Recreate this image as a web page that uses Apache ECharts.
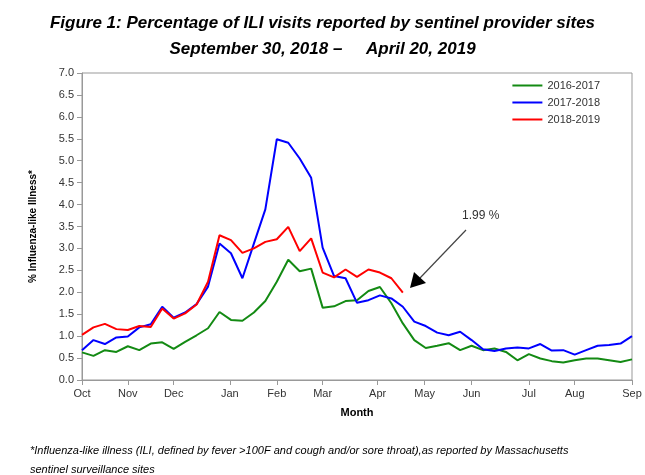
<!DOCTYPE html>
<html>
<head>
<meta charset="utf-8">
<script src="https://cdn.jsdelivr.net/npm/echarts@6/dist/echarts.min.js"></script>
<style>
  body { margin: 0; background: #fff; }
  #chart { width: 645px; height: 475px; }
</style>
</head>
<body>
<div id="chart"></div>
<script>
// weekly ILI %, week 0 = first week of October
const s2016 = [0.63, 0.55, 0.68, 0.64, 0.77, 0.68, 0.83, 0.86, 0.71, 0.87, 1.02, 1.18, 1.55, 1.37, 1.35, 1.54, 1.80, 2.24, 2.74, 2.48, 2.54, 1.65, 1.68, 1.80, 1.82, 2.03, 2.12, 1.75, 1.29, 0.91, 0.73, 0.78, 0.84, 0.68, 0.78, 0.68, 0.72, 0.64, 0.45, 0.59, 0.49, 0.43, 0.40, 0.45, 0.49, 0.49, 0.45, 0.41, 0.47]
const s2017 = [0.68, 0.91, 0.82, 0.97, 0.99, 1.20, 1.27, 1.67, 1.42, 1.54, 1.73, 2.13, 3.11, 2.89, 2.32, 3.11, 3.89, 5.49, 5.41, 5.05, 4.61, 3.02, 2.37, 2.32, 1.76, 1.82, 1.93, 1.86, 1.67, 1.33, 1.23, 1.08, 1.02, 1.10, 0.91, 0.70, 0.66, 0.72, 0.74, 0.72, 0.82, 0.67, 0.68, 0.58, 0.68, 0.78, 0.80, 0.83, 1.00]
const s2018 = [1.03, 1.20, 1.28, 1.16, 1.14, 1.23, 1.21, 1.63, 1.40, 1.52, 1.72, 2.24, 3.30, 3.19, 2.90, 3.00, 3.15, 3.21, 3.49, 2.94, 3.23, 2.45, 2.34, 2.52, 2.35, 2.52, 2.45, 2.32, 1.99]
const months = ['Oct', 'Nov', 'Dec', 'Jan', 'Feb', 'Mar', 'Apr', 'May', 'Jun', 'Jul', 'Aug', 'Sep']
const monthWeeks = [0, 4, 8, 12.9, 17, 21, 25.8, 29.9, 34, 39, 43, 48]

const toPts = arr => arr.map((v, i) => [i, v])
const chart = echarts.init(document.getElementById('chart'))

const lineSeries = (name, data, color) => ({
  name, type: 'line', data: toPts(data), symbol: 'none',
  lineStyle: {color, width: 2}, itemStyle: {color},
})

chart.setOption({
  animation: false,
  title: [
    {text: 'Figure 1: Percentage of ILI visits reported by sentinel provider sites', left: 'center', top: 10,
      textStyle: {fontFamily: 'Liberation Sans', fontSize: 17, fontWeight: 'bold', fontStyle: 'italic', color: '#000'}},
    {text: 'September 30, 2018 \u2013     April 20, 2019', left: 'center', top: 36,
      textStyle: {fontFamily: 'Liberation Sans', fontSize: 17, fontWeight: 'bold', fontStyle: 'italic', color: '#000'}},
  ],
  legend: {
    right: 40, top: 75, orient: 'vertical', itemWidth: 30, itemHeight: 2, itemGap: 6,
    icon: 'rect',
    textStyle: {fontFamily: 'Liberation Sans', fontSize: 11, color: '#333'},
  },
  grid: {left: 82, right: 13, top: 73, bottom: 95, show: true, borderColor: '#999', borderWidth: 1},
  xAxis: {
    type: 'value', min: 0, max: 48,
    name: 'Month', nameLocation: 'middle', nameGap: 27,
    nameTextStyle: {fontFamily: 'Liberation Sans', fontSize: 11, fontWeight: 'bold', color: '#000'},
    axisLine: {lineStyle: {color: '#999'}},
    axisTick: {customValues: monthWeeks, length: 5, lineStyle: {color: '#999'}},
    axisLabel: {
      customValues: monthWeeks, color: '#333', fontFamily: 'Liberation Sans', fontSize: 11, margin: 8,
      formatter: v => months[monthWeeks.indexOf(v)],
    },
    splitLine: {show: false},
  },
  yAxis: {
    type: 'value', min: 0, max: 7, interval: 0.5,
    name: '% Influenza-like Illness*', nameLocation: 'middle', nameGap: 44,
    nameTextStyle: {fontFamily: 'Liberation Sans', fontSize: 10, fontWeight: 'bold', color: '#000'},
    axisLine: {show: true, lineStyle: {color: '#999'}},
    axisTick: {show: true, length: 5, lineStyle: {color: '#999'}},
    axisLabel: {color: '#333', fontFamily: 'Liberation Sans', fontSize: 11, formatter: v => v.toFixed(1)},
    splitLine: {show: false},
  },
  series: [
    lineSeries('2016-2017', s2016, '#138a13'),
    lineSeries('2017-2018', s2017, '#0000ff'),
    lineSeries('2018-2019', s2018, '#ff0000'),
  ],
  graphic: [
    {type: 'text', left: 462, top: 210, style: {text: '1.99 %', fontFamily: 'Liberation Sans', fontSize: 12, fill: '#333'}},
    {type: 'line', shape: {x1: 466, y1: 230, x2: 420, y2: 278}, style: {stroke: '#444', lineWidth: 1.2}},
    {type: 'polygon', shape: {points: [[410, 288], [414, 272], [426, 283]]}, style: {fill: '#000'}},
    {type: 'text', left: 30, top: 441, style: {
      text: '*Influenza-like illness (ILI, defined by fever >100F and cough and/or sore throat),as reported by Massachusetts\nsentinel surveillance sites',
      fontFamily: 'Liberation Sans', fontSize: 11, fontStyle: 'italic', fill: '#000', lineHeight: 19}},
  ],
})
</script>
</body>
</html>
